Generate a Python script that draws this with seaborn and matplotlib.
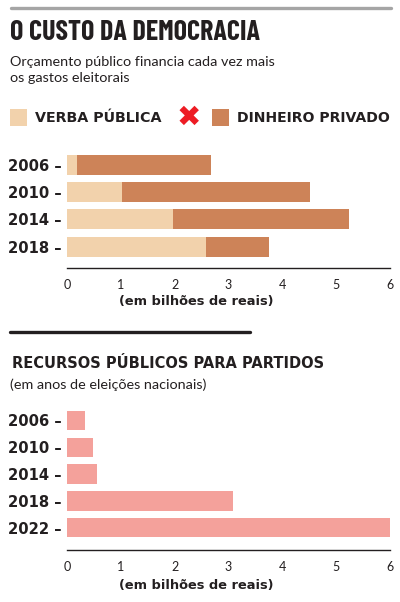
import numpy as np
import pandas as pd
import matplotlib
matplotlib.use("Agg")
import matplotlib.pyplot as plt
from matplotlib.patches import Rectangle
from matplotlib.lines import Line2D
from matplotlib.ticker import MultipleLocator
import seaborn as sns

# ---- data ----
anos_topo = ["2006", "2010", "2014", "2018"]
verba_publica = [0.19, 1.03, 1.96, 2.58]
dinheiro_privado = [2.48, 3.49, 3.28, 1.17]

anos_base = ["2006", "2010", "2014", "2018", "2022"]
recursos_partidos = [0.34, 0.49, 0.56, 3.09, 6.0]

x_ticks = [0, 1, 2, 3, 4, 5, 6]

# ---- style ----
sns.set_theme(style="white")
plt.rcParams["font.family"] = ["DejaVu Sans"]

C_PUB = "#F2D2AC"
C_PRIV = "#CD8358"
C_PINK = "#F4A19B"
C_TXT = "#231F20"
LIGHT = ["Lato", "DejaVu Sans"]
COND = ["Barlow Condensed", "DejaVu Sans"]

W, H = 400, 602
fig = plt.figure(figsize=(W / 100, H / 100), dpi=100)
fig.patch.set_facecolor("white")


def fx(x):
    return x / W


def fy(y):
    return 1 - y / H


def axes_px(left, top, right, bottom):
    return fig.add_axes([fx(left), fy(bottom), (right - left) / W, (bottom - top) / H])


def style_axis(ax, labels):
    ax.set_xlim(0, 6)
    for s in ["top", "right", "left"]:
        ax.spines[s].set_visible(False)
    ax.spines["bottom"].set_color(C_TXT)
    ax.spines["bottom"].set_linewidth(1.0)
    ax.set_facecolor("none")
    ax.xaxis.set_major_locator(MultipleLocator(1))
    ax.xaxis.set_minor_locator(MultipleLocator(0.1))
    ax.tick_params(axis="x", which="major", direction="in", length=5, width=0.9,
                   color=C_TXT, pad=8, labelsize=9, labelcolor=C_TXT)
    ax.tick_params(axis="x", which="minor", direction="in", length=2.5, width=0.6,
                   color=C_TXT)
    ax.set_xticks(x_ticks)
    ax.set_xticklabels([str(t) for t in x_ticks], family=LIGHT, fontweight="normal")
    ax.tick_params(axis="y", length=0, pad=4)
    ax.set_yticks(range(len(labels)))
    ax.set_yticklabels([f"{l} –" for l in labels], fontsize=10.6,
                       fontweight="bold", color=C_TXT)
    ax.set_ylabel("")
    ax.set_xlabel("")
    ax.grid(False)


# ---- top chart ----
ax1 = axes_px(67, 150.9, 390, 267.7)
df_top = pd.DataFrame({"ano": anos_topo,
                       "publica": verba_publica,
                       "privado": dinheiro_privado})
df_top["total"] = df_top["publica"] + df_top["privado"]
sns.barplot(data=df_top, y="ano", x="total", color=C_PRIV, saturation=1,
            width=0.73, orient="h", ax=ax1, linewidth=0)
sns.barplot(data=df_top, y="ano", x="publica", color=C_PUB, saturation=1,
            width=0.73, orient="h", ax=ax1, linewidth=0)
ax1.set_ylim(3.77, -0.5)
style_axis(ax1, anos_topo)

# ---- bottom chart ----
ax2 = axes_px(67, 406.9, 390, 550)
df_base = pd.DataFrame({"ano": anos_base, "valor": recursos_partidos})
sns.barplot(data=df_base, y="ano", x="valor", color=C_PINK, saturation=1,
            width=0.72, orient="h", ax=ax2, linewidth=0)
ax2.set_ylim(4.83, -0.5)
style_axis(ax2, anos_base)

# ---- decorations ----
fig.add_artist(Line2D([fx(11), fx(391)], [fy(8), fy(8)], color="#A5A5A5", lw=2.4))
fig.add_artist(Line2D([fx(10), fx(250)], [fy(332), fy(332)], color=C_TXT, lw=2.4))

fig.text(fx(10), fy(33), "O CUSTO DA DEMOCRACIA", family=COND,
         fontweight="bold", fontsize=20.2, color=C_TXT, va="center", ha="left")
fig.text(fx(10), fy(62), "Orçamento público financia cada vez mais", family=LIGHT,
         fontweight="normal", fontsize=10.4, color=C_TXT, va="center", ha="left")
fig.text(fx(10), fy(78.5), "os gastos eleitorais", family=LIGHT,
         fontweight="normal", fontsize=10.4, color=C_TXT, va="center", ha="left")

# legend
fig.add_artist(Rectangle((fx(10), fy(126)), 17 / W, 17 / H, color=C_PUB, lw=0))
fig.text(fx(35), fy(117.5), "VERBA PÚBLICA", fontweight="bold", fontsize=10.3,
         color=C_TXT, va="center", ha="left")
fig.text(fx(188.5), fy(117.5), "✖", fontsize=21, color="#ED1C24",
         va="center", ha="center")
fig.add_artist(Rectangle((fx(212), fy(126)), 17 / W, 17 / H, color=C_PRIV, lw=0))
fig.text(fx(237), fy(117.5), "DINHEIRO PRIVADO", fontweight="bold", fontsize=10.1,
         color=C_TXT, va="center", ha="left")

fig.text(fx(196), fy(302), "(em bilhões de reais)", fontweight="bold", fontsize=9.4,
         color=C_TXT, va="center", ha="center")

fig.text(fx(12), fy(364), "RECURSOS PÚBLICOS PARA PARTIDOS", fontweight="bold",
         fontsize=10.5, color=C_TXT, va="center", ha="left")
fig.text(fx(10), fy(385), "(em anos de eleições nacionais)", family=LIGHT,
         fontweight="normal", fontsize=10.4, color=C_TXT, va="center", ha="left")

fig.text(fx(196), fy(585), "(em bilhões de reais)", fontweight="bold", fontsize=9.4,
         color=C_TXT, va="center", ha="center")

fig.savefig("out.png", dpi=100, facecolor="white")
